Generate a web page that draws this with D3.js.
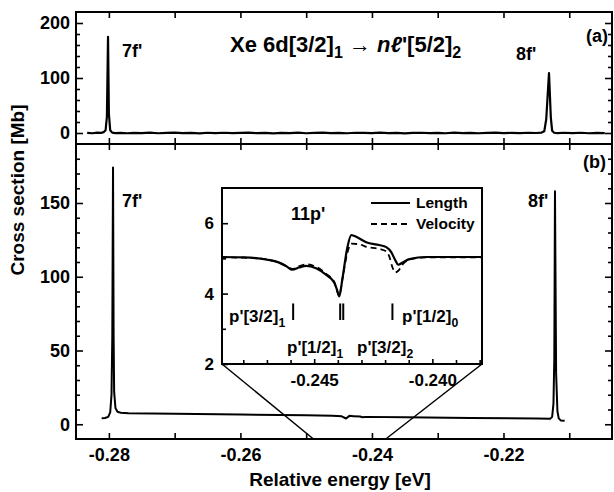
<!DOCTYPE html>
<html>
<head>
<meta charset="utf-8">
<script src="https://cdn.jsdelivr.net/npm/d3@7/dist/d3.min.js"></script>
<style>
  body { margin: 0; background: #fff; }
  svg text { font-family: "Liberation Sans", Arial, sans-serif; font-weight: bold; fill: #000; }
</style>
</head>
<body>
<div id="chart"></div>
<script>
// panel (a): measured spectrum (energy in eV, cross section in Mb)
var expE = [-0.2833,-0.2825,-0.2818,-0.2812,-0.2808,-0.2805,-0.2803,-0.28013,-0.2800,-0.2798,-0.2795,-0.2790,-0.2782,-0.2772,-0.2762,-0.2750,-0.2738,-0.2725,-0.2712,-0.2700,-0.2688,-0.2675,-0.2662,-0.2650,-0.2638,-0.2625,-0.2612,-0.2600,-0.2588,-0.2575,-0.2562,-0.2550,-0.2538,-0.2525,-0.2512,-0.2500,-0.2488,-0.2475,-0.2462,-0.2450,-0.2438,-0.2425,-0.2412,-0.2400,-0.2388,-0.2375,-0.2362,-0.2350,-0.2338,-0.2325,-0.2312,-0.2300,-0.2288,-0.2275,-0.2262,-0.2250,-0.2238,-0.2225,-0.2212,-0.2200,-0.2188,-0.2175,-0.2162,-0.2150,-0.2142,-0.2138,-0.2135,-0.21308,-0.2128,-0.2126,-0.2123,-0.2118,-0.2108,-0.2095,-0.2082,-0.2070,-0.2058,-0.2046]
var expS = [0.3,-0.5,0.6,0.1,1.5,5,30,175,35,5,0.6,-0.3,0.4,-0.5,0.3,-0.2,0.6,-0.5,0.2,0.6,-0.4,0.3,-0.6,0.5,-0.2,0.5,-0.4,0.2,0.7,-0.3,0.1,-0.6,0.4,-0.1,0.6,-0.5,0.3,0.7,-0.2,0.2,-0.5,0.5,0.1,-0.4,0.6,-0.2,0.3,-0.6,0.2,0.5,-0.3,0.1,-0.5,0.6,-0.1,0.4,-0.5,0.3,0.6,-0.3,0.2,-0.4,0.5,0.0,0.8,3,25,109,28,4,0.4,-0.4,0.5,-0.2,0.5,-0.5,0.2,-0.2]

// panel (b): calculated spectrum
var thE = [-0.2811,-0.2806,-0.2801,-0.2798,-0.2796,-0.27948,-0.27937,-0.27928,-0.2792,-0.2790,-0.2787,-0.2782,-0.2770,-0.2700,-0.2600,-0.2500,-0.2460,-0.2446,-0.24394,-0.24343,-0.2428,-0.2418,-0.24144,-0.2410,-0.2350,-0.2250,-0.2150,-0.2129,-0.2126,-0.2124,-0.21227,-0.21217,-0.2120,-0.2118,-0.2116,-0.2113,-0.2107]
var thS = [4.0,4.2,5.0,8,20,60,174,60,22,11,8.5,7.8,7.5,7.1,6.6,6.1,5.7,5.4,3.9,5.7,5.5,5.2,4.8,5.0,4.8,4.3,3.9,3.8,5,14,45,158,35,9,4,2.6,2.4]

// inset: 11p' region, length and velocity gauge
var insE = [-0.24894,-0.24797,-0.24703,-0.24648,-0.24614,-0.24593,-0.24564,-0.24534,-0.24492,-0.24449,-0.24415,-0.24403,-0.24394,-0.24381,-0.24360,-0.24343,-0.24318,-0.24280,-0.24225,-0.24195,-0.24174,-0.24157,-0.24144,-0.24127,-0.24097,-0.24025,-0.23792]
var lengthS = [5.04,5.03,4.97,4.88,4.76,4.68,4.74,4.79,4.72,4.53,4.31,4.10,3.92,4.40,5.30,5.66,5.60,5.46,5.38,5.32,5.18,4.95,4.82,4.88,4.98,5.04,5.04]
var velE = [-0.24894,-0.24797,-0.24703,-0.24648,-0.24614,-0.24593,-0.24564,-0.24534,-0.24492,-0.24449,-0.24415,-0.24394,-0.24381,-0.24360,-0.24343,-0.24309,-0.24280,-0.24225,-0.24195,-0.24182,-0.24169,-0.24157,-0.24144,-0.24123,-0.24097,-0.24025,-0.23792]
var velocityS = [5.03,5.02,4.97,4.88,4.77,4.70,4.78,4.83,4.76,4.56,4.33,3.95,4.40,5.15,5.42,5.40,5.33,5.27,5.20,5.05,4.75,4.60,4.65,4.85,4.97,5.03,5.03]

// thresholds marked in inset
var markE = [-0.24589,-0.24390,-0.24377,-0.24169]

var xMajor = [-0.28,-0.26,-0.24,-0.22]
var xMinor = [-0.27,-0.25,-0.23,-0.21]
var aMajor = [0,100,200]
var aMinor = [20,40,60,80,120,140,160,180]
var bMajor = [0,50,100,150]
var bMinor = [10,20,30,40,60,70,80,90,110,120,130,140,160,170,180]
var iMajorX = [-0.245,-0.240]
var iMinorX = [-0.248,-0.247,-0.246,-0.244,-0.243,-0.242,-0.241,-0.239,-0.238]
var iMajorY = [2,4,6]
var iMinorY = [3,5]

var width = 614, height = 492

var svg = d3.select("#chart").append("svg")
    .attr("width", width).attr("height", height)
svg.append("rect").attr("width", width).attr("height", height).attr("fill", "#fff")

var x = d3.scaleLinear().domain([-0.285, -0.2035]).range([76, 612])
var yA = d3.scaleLinear().domain([-20, 220]).range([144, 12])
var yB = d3.scaleLinear().domain([-10, 190]).range([439, 144])

var xi = d3.scaleLinear().domain([-0.2489, -0.2379]).range([222, 482])
var yi = d3.scaleLinear().domain([2, 7]).range([364, 188])

function axisG(axis, tx, ty, size){
    var g = svg.append("g").attr("transform", "translate(" + tx + "," + ty + ")")
        .style("font-size", size + "px").call(axis)
    g.select(".domain").remove()
    g.selectAll("line").attr("stroke", "#000").attr("stroke-width", 1.6)
    g.selectAll("text").attr("fill", "#000")
        .style("font-family", "'Liberation Sans', Arial, sans-serif").style("font-weight", "bold")
    return g
}
var plain = function(d){ return d }

// ---- x ticks on all horizontal edges
var xt = xMajor.concat(xMinor)
axisG(d3.axisTop(x).tickValues(xt).tickSize(-6).tickFormat(""), 0, yA.range()[1], 18)
axisG(d3.axisBottom(x).tickValues(xt).tickSize(-6).tickFormat(""), 0, 144, 18)
axisG(d3.axisTop(x).tickValues(xt).tickSize(-6).tickFormat(""), 0, 144, 18)
axisG(d3.axisBottom(x).tickValues(xMinor).tickSize(-6).tickFormat(""), 0, 439, 18)
axisG(d3.axisBottom(x).tickValues(xMajor).tickSize(-6).tickPadding(9)
    .tickFormat(function(d){ return d.toFixed(2) }), 0, 439, 18)

// ---- y ticks panel (a)
axisG(d3.axisLeft(yA).tickValues(aMajor).tickSize(-7).tickPadding(6).tickFormat(plain), 76, 0, 18)
axisG(d3.axisLeft(yA).tickValues(aMinor).tickSize(-4).tickFormat(""), 76, 0, 18)
axisG(d3.axisRight(yA).tickValues(aMajor).tickSize(-7).tickFormat(""), 612, 0, 18)
axisG(d3.axisRight(yA).tickValues(aMinor).tickSize(-4).tickFormat(""), 612, 0, 18)

// ---- y ticks panel (b)
axisG(d3.axisLeft(yB).tickValues(bMajor).tickSize(-7).tickPadding(6).tickFormat(plain), 76, 0, 18)
axisG(d3.axisLeft(yB).tickValues(bMinor).tickSize(-4).tickFormat(""), 76, 0, 18)
axisG(d3.axisRight(yB).tickValues(bMajor).tickSize(-7).tickFormat(""), 612, 0, 18)
axisG(d3.axisRight(yB).tickValues(bMinor).tickSize(-4).tickFormat(""), 612, 0, 18)

// frames
svg.append("rect").attr("x", 76).attr("y", 12).attr("width", 536).attr("height", 132)
    .attr("fill", "none").attr("stroke", "#000").attr("stroke-width", 2)
svg.append("rect").attr("x", 76).attr("y", 144).attr("width", 536).attr("height", 295)
    .attr("fill", "none").attr("stroke", "#000").attr("stroke-width", 2)

// curves
var lineA = d3.line().x(function(d){ return x(d[0]) }).y(function(d){ return yA(d[1]) })
svg.append("path").datum(d3.zip(expE, expS)).attr("d", lineA)
    .attr("fill", "none").attr("stroke", "#000").attr("stroke-width", 2.2).attr("stroke-linejoin", "round")

var lineB = d3.line().x(function(d){ return x(d[0]) }).y(function(d){ return yB(d[1]) })
svg.append("path").datum(d3.zip(thE, thS)).attr("d", lineB)
    .attr("fill", "none").attr("stroke", "#000").attr("stroke-width", 2).attr("stroke-linejoin", "round")

// zoom lines from inset to main axis
var d0 = xi.domain()
svg.append("line").attr("x1", xi(d0[0])).attr("y1", yi(2)).attr("x2", x(d0[0])).attr("y2", yB(-10))
    .attr("stroke", "#000").attr("stroke-width", 1.5)
svg.append("line").attr("x1", xi(d0[1])).attr("y1", yi(2)).attr("x2", x(d0[1])).attr("y2", yB(-10))
    .attr("stroke", "#000").attr("stroke-width", 1.5)

// ---- inset
svg.append("rect").attr("x", 222).attr("y", 188).attr("width", 260).attr("height", 176).attr("fill", "#fff")
axisG(d3.axisBottom(xi).tickValues(iMinorX).tickSize(-4).tickFormat(""), 0, 364, 17)
axisG(d3.axisBottom(xi).tickValues(iMajorX).tickSize(-5).tickPadding(10)
    .tickFormat(function(d){ return d.toFixed(3) }), 0, 364, 17)
axisG(d3.axisLeft(yi).tickValues(iMajorY).tickSize(-6).tickPadding(8).tickFormat(plain), 222, 0, 17)
axisG(d3.axisLeft(yi).tickValues(iMinorY).tickSize(-4).tickFormat(""), 222, 0, 17)

var lineI = d3.line().x(function(d){ return xi(d[0]) }).y(function(d){ return yi(d[1]) }).curve(d3.curveMonotoneX)
svg.append("path").datum(d3.zip(velE, velocityS)).attr("d", lineI)
    .attr("fill", "none").attr("stroke", "#000").attr("stroke-width", 1.8).attr("stroke-dasharray", "6,4")
svg.append("path").datum(d3.zip(insE, lengthS)).attr("d", lineI)
    .attr("fill", "none").attr("stroke", "#000").attr("stroke-width", 2.2)

svg.selectAll(".mark").data(markE).enter().append("line").attr("class", "mark")
    .attr("x1", function(d){ return xi(d) }).attr("x2", function(d){ return xi(d) })
    .attr("y1", yi(3.25)).attr("y2", yi(3.72))
    .attr("stroke", "#000").attr("stroke-width", 2)

svg.append("rect").attr("x", 222).attr("y", 188).attr("width", 260).attr("height", 176)
    .attr("fill", "none").attr("stroke", "#000").attr("stroke-width", 2)

// legend
svg.append("line").attr("x1", 371).attr("x2", 410).attr("y1", 203).attr("y2", 203)
    .attr("stroke", "#000").attr("stroke-width", 2)
svg.append("line").attr("x1", 371).attr("x2", 410).attr("y1", 224).attr("y2", 224)
    .attr("stroke", "#000").attr("stroke-width", 2).attr("stroke-dasharray", "6,4")
svg.append("text").attr("x", 416).attr("y", 208).style("font-size", "15.5px").text("Length")
svg.append("text").attr("x", 416).attr("y", 229).style("font-size", "15.5px").text("Velocity")

svg.append("text").attr("x", 291).attr("y", 220).style("font-size", "18px").text("11p'")

function subLabel(tx, ty, main, sub, size){
    var t = svg.append("text").attr("x", tx).attr("y", ty).style("font-size", size + "px")
    t.append("tspan").text(main)
    t.append("tspan").attr("dy", size * 0.3).style("font-size", (size * 0.72) + "px").text(sub)
    return t
}
subLabel(229, 322, "p'[3/2]", "1", 17)
subLabel(402, 322, "p'[1/2]", "0", 17)
subLabel(287, 353, "p'[1/2]", "1", 17)
subLabel(357, 353, "p'[3/2]", "2", 17)

// ---- labels
svg.append("text").attr("x", 122).attr("y", 57).style("font-size", "18px").text("7f'")
svg.append("text").attr("x", 516).attr("y", 60).style("font-size", "18px").text("8f'")
svg.append("text").attr("x", 122).attr("y", 207).style("font-size", "18px").text("7f'")
svg.append("text").attr("x", 528).attr("y", 207).style("font-size", "18px").text("8f'")
svg.append("text").attr("x", 608).attr("y", 42).attr("text-anchor", "end").style("font-size", "18px").text("(a)")
svg.append("text").attr("x", 606).attr("y", 168).attr("text-anchor", "end").style("font-size", "18px").text("(b)")

var title = svg.append("text").attr("x", 230).attr("y", 52).style("font-size", "22px")
title.append("tspan").text("Xe 6d[3/2]")
title.append("tspan").attr("dy", 6).style("font-size", "16px").text("1")
title.append("tspan").attr("dy", -6).text(" \u2192 ")
title.append("tspan").style("font-style", "italic").text("n\u2113")
title.append("tspan").text("'[5/2]")
title.append("tspan").attr("dy", 6).style("font-size", "16px").text("2")

svg.append("text").attr("x", 340).attr("y", 486).attr("text-anchor", "middle")
    .style("font-size", "19px").text("Relative energy [eV]")
svg.append("text").attr("transform", "translate(24,190) rotate(-90)").attr("text-anchor", "middle")
    .style("font-size", "19px").text("Cross section [Mb]")
</script>
</body>
</html>
